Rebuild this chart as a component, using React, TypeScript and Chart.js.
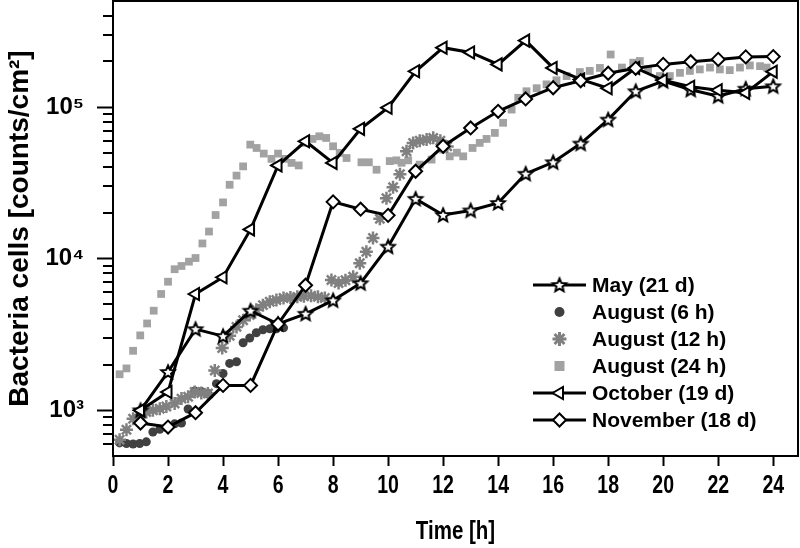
import React, { useEffect, useRef } from 'react';
import { Chart, registerables } from 'chart.js';

Chart.register(...registerables);

// ---- data ----
const hours = [1, 2, 3, 4, 5, 6, 7, 8, 9, 10, 11, 12, 13, 14, 15, 16, 17, 18, 19, 20, 21, 22, 23, 24];
const mayValues = [1000, 1790, 3430, 3085, 4540, 3710, 4330, 5310, 6890, 12000, 24800, 19400, 20800, 23300, 36300, 43200, 57400, 82600, 127000, 148000, 130000, 118000, 132000, 137000];
const octoberValues = [1000, 1320, 5850, 7540, 15600, 41200, 59400, 42800, 71800, 98900, 172000, 246000, 229000, 191000, 274000, 181000, 152000, 133000, 181000, 150000, 136000, 129000, 124000, 171000];
const novemberValues = [825, 776, 965, 1460, 1460, 3710, 6680, 23700, 21200, 19300, 37700, 55100, 72800, 93700, 113000, 134000, 149000, 167000, 180000, 191000, 199000, 206000, 214000, 215000];

const aug6Times = [0.24, 0.49, 0.73, 0.97, 1.21, 1.45, 1.7, 1.94, 2.24, 2.49, 2.73, 2.97, 3.21, 3.45, 3.76, 4.0, 4.24, 4.49, 4.73, 4.97, 5.21, 5.45, 5.7, 5.94, 6.2];
const aug6Values = [610, 605, 600, 605, 620, 720, 750, 770, 815, 825, 1020, 1340, 1330, 1290, 1500, 1750, 2040, 2090, 2790, 3000, 3250, 3400, 3450, 3450, 3500];

const aug12Times = [0.24, 0.49, 0.73, 0.97, 1.21, 1.45, 1.7, 1.94, 2.24, 2.49, 2.73, 2.97, 3.21, 3.45, 3.7, 3.97, 4.24, 4.49, 4.73, 4.97, 5.21, 5.45, 5.7, 5.94, 6.2, 6.45, 6.7, 6.94, 7.2, 7.45, 7.7, 7.94, 8.2, 8.45, 8.73, 8.97, 9.21, 9.45, 9.7, 9.94, 10.18, 10.43, 10.67, 10.91, 11.15, 11.4, 11.64, 11.9, 12.15];
const aug12Values = [640, 745, 880, 930, 975, 1000, 1026, 1060, 1110, 1195, 1230, 1320, 1300, 1290, 1830, 2580, 3100, 3550, 3930, 4250, 4600, 4940, 5200, 5340, 5500, 5550, 5600, 5650, 5700, 5600, 5500, 7240, 6900, 7200, 7600, 9330, 11100, 13700, 18300, 25000, 29600, 36000, 51000, 58000, 60000, 61000, 62600, 60000, 55000];

const aug24Times = [0.24, 0.49, 0.73, 0.99, 1.24, 1.48, 1.75, 2.0, 2.24, 2.49, 2.76, 3.0, 3.25, 3.49, 3.73, 4.0, 4.24, 4.49, 4.73, 4.99, 5.22, 5.48, 5.76, 6.0, 6.24, 6.49, 6.75, 7.0, 7.25, 7.5, 7.75, 8.0, 8.24, 8.49, 9.03, 9.3, 9.58, 10.06, 10.3, 10.49, 10.73, 11.15, 11.58, 12.0, 12.24, 12.5, 12.73, 13.07, 13.33, 13.58, 13.88, 14.18, 14.49, 14.73, 15.03, 15.4, 15.76, 16.12, 16.49, 16.97, 17.33, 17.7, 18.09, 18.5, 18.91, 19.15, 19.45, 19.88, 20.24, 20.61, 20.97, 21.33, 21.7, 22.06, 22.42, 22.79, 23.15, 23.52, 23.76];
const aug24Values = [1730, 1890, 2470, 3120, 3740, 4540, 5850, 7050, 8520, 8950, 9560, 10100, 12600, 15100, 19400, 23500, 30700, 35300, 40600, 56500, 53700, 49300, 45500, 49300, 45500, 42800, 41200, 58000, 61600, 64100, 62500, 55100, 49800, 46100, 43200, 43200, 38600, 44000, 44500, 42900, 44500, 41700, 45000, 52400, 47300, 50000, 47300, 53700, 58000, 61600, 67500, 78700, 96200, 115000, 127000, 133000, 141000, 150000, 160000, 170000, 173000, 181000, 222000, 182000, 196000, 201000, 177000, 160000, 160000, 168000, 173000, 177000, 182000, 177000, 175000, 182000, 188000, 186000, 182000];

const xTickValues = [0, 2, 4, 6, 8, 10, 12, 14, 16, 18, 20, 22, 24];
const yTickValues = [1000, 10000, 100000];
const yTickLabels = ['10\u00B3', '10\u2074', '10\u2075'];
const yMinorValues = [600, 700, 800, 900, 2000, 3000, 4000, 5000, 6000, 7000, 8000, 9000, 20000, 30000, 40000, 50000, 60000, 70000, 80000, 90000, 200000, 300000, 400000];

const legendLabels = ['May (21 d)', 'August (6 h)', 'August (12 h)', 'August (24 h)', 'October (19 d)', 'November (18 d)'];

const xTitle = 'Time [h]';
const yTitle = 'Bacteria cells [counts/cm\u00B2]';

// ---- style ----
const SANS = "'Liberation Sans', Arial, Helvetica, sans-serif";
const C_AUG6 = '#404040';
const C_AUG12 = '#808080';
const C_AUG24 = '#a2a2a2';

function makeStarCanvas(rOut: number, rIn: number, lw: number): HTMLCanvasElement {
  const size = Math.ceil(2 * rOut + lw + 4);
  const c = document.createElement('canvas');
  c.width = size;
  c.height = size;
  const ctx = c.getContext('2d')!;
  const cx = size / 2;
  const cy = size / 2 + 0.5;
  ctx.beginPath();
  for (let i = 0; i < 10; i++) {
    const r = i % 2 === 0 ? rOut : rIn;
    const a = -Math.PI / 2 + (i * Math.PI) / 5;
    const px = cx + r * Math.cos(a);
    const py = cy + r * Math.sin(a);
    if (i === 0) ctx.moveTo(px, py);
    else ctx.lineTo(px, py);
  }
  ctx.closePath();
  ctx.fillStyle = '#fff';
  ctx.fill();
  ctx.lineWidth = lw;
  ctx.strokeStyle = '#000';
  ctx.lineJoin = 'miter';
  ctx.stroke();
  return c;
}

function drawMarker(ctx: CanvasRenderingContext2D, kind: string, x: number, y: number, star: HTMLCanvasElement) {
  ctx.save();
  if (kind === 'star5') {
    ctx.drawImage(star, x - star.width / 2, y - star.height / 2);
  } else if (kind === 'circle') {
    ctx.beginPath();
    ctx.arc(x, y, 5, 0, Math.PI * 2);
    ctx.fillStyle = C_AUG6;
    ctx.fill();
  } else if (kind === 'asterisk') {
    ctx.strokeStyle = C_AUG12;
    ctx.lineWidth = 3;
    const r = 7;
    ctx.beginPath();
    for (let i = 0; i < 4; i++) {
      const a = (i * Math.PI) / 4;
      ctx.moveTo(x - r * Math.cos(a), y - r * Math.sin(a));
      ctx.lineTo(x + r * Math.cos(a), y + r * Math.sin(a));
    }
    ctx.stroke();
  } else if (kind === 'square') {
    ctx.fillStyle = C_AUG24;
    ctx.fillRect(x - 5, y - 5, 10, 10);
  } else if (kind === 'triLeft') {
    const r = 7;
    ctx.beginPath();
    ctx.moveTo(x - r, y);
    ctx.lineTo(x + r / 2, y - r * 0.866);
    ctx.lineTo(x + r / 2, y + r * 0.866);
    ctx.closePath();
    ctx.fillStyle = '#fff';
    ctx.fill();
    ctx.lineWidth = 2;
    ctx.strokeStyle = '#000';
    ctx.stroke();
  } else if (kind === 'diamond') {
    const r = 6.5;
    ctx.beginPath();
    ctx.moveTo(x - r, y);
    ctx.lineTo(x, y - r);
    ctx.lineTo(x + r, y);
    ctx.lineTo(x, y + r);
    ctx.closePath();
    ctx.fillStyle = '#fff';
    ctx.fill();
    ctx.lineWidth = 2;
    ctx.strokeStyle = '#000';
    ctx.stroke();
  }
  ctx.restore();
}

// render a scale's texts horizontally condensed (the reference uses a narrow face)
function condenseScaleText(scale: any, fxLabels: number, fxTitle: number) {
  if (!scale || scale.__condensed) return;
  scale.__condensed = true;
  const pairs: [string, number][] = [['drawLabels', fxLabels], ['drawTitle', fxTitle]];
  pairs.forEach(([name, fx]) => {
    const orig = scale[name].bind(scale);
    scale[name] = (...args: any[]) => {
      const ctx = scale.ctx;
      const origFill = ctx.fillText;
      ctx.fillText = function (t: string, x: number, y: number) {
        this.save();
        this.translate(x, y);
        this.scale(fx, 1);
        origFill.call(this, t, 0, 0);
        this.restore();
      };
      try {
        orig(...args);
      } finally {
        delete ctx.fillText;
      }
    };
  });
}

const toXY = (xs: number[], ys: number[]) => xs.map((x, i) => ({ x, y: ys[i] }));

export default function App() {
  const canvasRef = useRef<HTMLCanvasElement | null>(null);

  useEffect(() => {
    const canvas = canvasRef.current;
    if (!canvas) return;
    const starImg = makeStarCanvas(7, 3.2, 2);

    const legendKinds = ['star5', 'circle', 'asterisk', 'square', 'triLeft', 'diamond'];
    const legendHasLine = [true, false, false, false, true, true];
    const legendRowsY = [285, 312, 339, 366, 393, 420];

    const framePlugin = {
      id: 'frameAndExtras',
      beforeDraw(chart: any) {
        condenseScaleText(chart.scales.x, 0.78, 0.82);
      },
      afterDraw(chart: any) {
        const { ctx, chartArea } = chart;
        const ys = chart.scales.y;
        ctx.save();
        ctx.strokeStyle = '#000';
        ctx.lineWidth = 2;
        ctx.beginPath();
        yMinorValues.forEach((v) => {
          const py = Math.round(ys.getPixelForValue(v));
          ctx.moveTo(chartArea.left - 10, py);
          ctx.lineTo(chartArea.left, py);
        });
        ctx.stroke();
        ctx.lineWidth = 2;
        ctx.strokeRect(chartArea.left, chartArea.top, chartArea.right - chartArea.left, chartArea.bottom - chartArea.top);
        const lineX0 = 533;
        const lineX1 = 586;
        const markX = 559.5;
        const textX = 592;
        ctx.font = `bold 21px ${SANS}`;
        ctx.textBaseline = 'middle';
        ctx.textAlign = 'left';
        legendLabels.forEach((label, i) => {
          const y = legendRowsY[i];
          if (legendHasLine[i]) {
            ctx.beginPath();
            ctx.lineWidth = 3;
            ctx.strokeStyle = '#000';
            ctx.moveTo(lineX0, y);
            ctx.lineTo(lineX1, y);
            ctx.stroke();
          }
          drawMarker(ctx, legendKinds[i], markX, y, starImg);
          ctx.fillStyle = '#000';
          ctx.fillText(label, textX, y + 1);
        });
        ctx.restore();
      },
    };

    const chart = new Chart(canvas, {
      type: 'line',
      data: {
        datasets: [
          {
            label: legendLabels[0],
            data: toXY(hours, mayValues),
            borderColor: '#000',
            borderWidth: 3,
            pointStyle: starImg as any,
            pointRadius: 7,
            pointBackgroundColor: '#fff',
            pointBorderColor: '#000',
            tension: 0,
            order: 2,
          },
          {
            label: legendLabels[1],
            data: toXY(aug6Times, aug6Values),
            showLine: false,
            pointStyle: 'circle',
            pointRadius: 4.5,
            pointBackgroundColor: C_AUG6,
            pointBorderColor: C_AUG6,
            pointBorderWidth: 0,
            order: 4,
          },
          {
            label: legendLabels[2],
            data: toXY(aug12Times, aug12Values),
            showLine: false,
            pointStyle: 'star',
            pointRadius: 6.5,
            pointBorderColor: C_AUG12,
            pointBackgroundColor: C_AUG12,
            pointBorderWidth: 2.5,
            order: 3,
          },
          {
            label: legendLabels[3],
            data: toXY(aug24Times, aug24Values),
            showLine: false,
            pointStyle: 'rect',
            pointRadius: 5.5,
            pointBackgroundColor: C_AUG24,
            pointBorderColor: C_AUG24,
            pointBorderWidth: 0,
            order: 5,
          },
          {
            label: legendLabels[4],
            data: toXY(hours, octoberValues),
            borderColor: '#000',
            borderWidth: 3,
            pointStyle: 'triangle',
            pointRotation: -90,
            pointRadius: 7,
            pointBorderWidth: 2,
            pointBackgroundColor: '#fff',
            pointBorderColor: '#000',
            tension: 0,
            order: 1,
          },
          {
            label: legendLabels[5],
            data: toXY(hours, novemberValues),
            borderColor: '#000',
            borderWidth: 3,
            pointStyle: 'rectRot',
            pointRadius: 6.5,
            pointBorderWidth: 2,
            pointBackgroundColor: '#fff',
            pointBorderColor: '#000',
            tension: 0,
            order: 0,
          },
        ],
      },
      options: {
        animation: false,
        responsive: false,
        devicePixelRatio: 1,
        layout: { autoPadding: false, padding: { top: 1, right: 2, left: 0, bottom: 0 } },
        plugins: { legend: { display: false }, tooltip: { enabled: false } },
        scales: {
          x: {
            type: 'linear',
            min: 0,
            max: 24.9,
            afterBuildTicks: (s: any) => {
              s.ticks = xTickValues.map((v) => ({ value: v }));
            },
            afterFit: (s: any) => {
              s.height = 92;
              s.paddingLeft = 0;
              s.paddingRight = 0;
            },
            grid: { drawOnChartArea: false, drawTicks: true, tickLength: 10, tickWidth: 2, tickColor: '#000' },
            border: { display: true, color: '#000', width: 2 },
            ticks: {
              color: '#000',
              font: { family: SANS, size: 25, weight: 'bold' },
              padding: 5,
              maxRotation: 0,
              autoSkip: false,
              callback: (v: any) => String(v),
            },
            title: {
              display: true,
              text: xTitle,
              color: '#000',
              font: { family: SANS, size: 25, weight: 'bold' },
              padding: { top: 0, bottom: 1 },
            },
          },
          y: {
            type: 'logarithmic',
            min: 500,
            max: 500000,
            afterBuildTicks: (s: any) => {
              s.ticks = yTickValues.map((v) => ({ value: v }));
            },
            afterFit: (s: any) => {
              s.width = 113;
              s.paddingTop = 0;
              s.paddingBottom = 0;
            },
            grid: { drawOnChartArea: false, drawTicks: true, tickLength: 16, tickWidth: 2, tickColor: '#000' },
            border: { display: true, color: '#000', width: 2 },
            ticks: {
              color: '#000',
              font: { family: SANS, size: 24, weight: 'bold' },
              padding: 13,
              autoSkip: false,
              callback: (_v: any, i: number) => yTickLabels[i],
            },
            title: {
              display: true,
              text: yTitle,
              color: '#000',
              font: { family: SANS, size: 28, weight: 'bold' },
              padding: { top: 3, bottom: 0 },
            },
          },
        },
      },
      plugins: [framePlugin],
    } as any);

    return () => {
      chart.destroy();
    };
  }, []);

  return (
    <div style={{ position: 'fixed', left: 0, top: 0, width: 800, height: 548, background: '#fff' }}>
      <canvas ref={canvasRef} width={800} height={548} style={{ display: 'block' }} />
    </div>
  );
}
